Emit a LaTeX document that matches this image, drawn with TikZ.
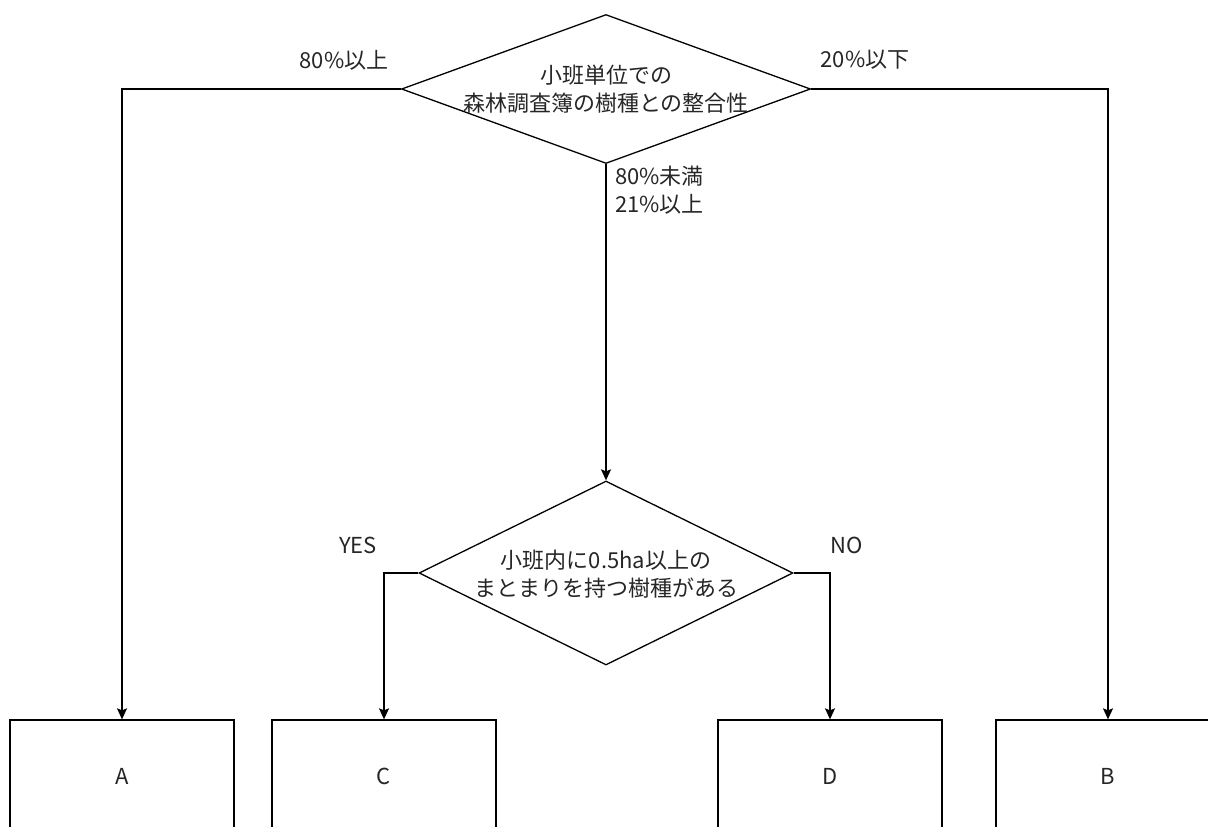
\documentclass[tikz,border=0pt]{standalone}
\usepackage{fontspec}
\setmainfont{Noto Sans CJK JP}
\usetikzlibrary{shapes.geometric,arrows.meta}
\colorlet{ink}{black!85}
\tikzset{
  conn/.style={line width=1.3pt, -{Stealth[length=11pt,width=10pt,inset=2pt]}},
  decision/.style={draw, line width=1.3pt, diamond, inner sep=0pt, minimum width=#1},
  result/.style={draw, line width=1.3pt, minimum width=224pt, minimum height=112pt, inner sep=0pt},
  txt/.style={font=\fontsize{22}{27.5}\selectfont, text=ink, align=center, inner sep=0pt},
  lbl/.style={font=\fontsize{22}{28}\selectfont, text=ink, align=left, inner sep=0pt}
}
\begin{document}
\begin{tikzpicture}[x=1pt,y=-1pt]
\useasboundingbox (0,0) rectangle (1208,827);
\clip (0,0) rectangle (1208,827);
% decision 1
\node[decision=409pt, minimum height=149pt] (d1) at (606,89) {};
\node[txt] (t1) at (606,89) {小班単位での\\森林調査簿の樹種との整合性};
% decision 2
\node[decision=374pt, minimum height=184pt] (d2) at (606,573) {};
\node[txt] (t2) at (606,574) {小班内に0.5ha以上の\\まとまりを持つ樹種がある};
% results
\node[result] (A) at (122,776) {};
\node[result] (C) at (384,776) {};
\node[result] (D) at (830,776) {};
\node[result] (B) at (1108,776) {};
\node[txt] at (A.center) {A};
\node[txt] at (C.center) {C};
\node[txt] at (D.center) {D};
\node[txt] at (B.center) {B};
% connectors
\draw[conn] (d1.west) -| (A.north);
\draw[conn] (d1.east) -| (B.north);
\draw[conn] (d1.south) -- (d2.north);
\draw[conn] (d2.west) -| (C.north);
\draw[conn] (d2.east) -| (D.north);
% edge labels
\node[txt] (l1) at (344,60) {80\%以上};
\node[txt] (l2) at (865,60) {20\%以下};
\node[lbl, anchor=north west] (l3) at (615,166) {80\%未満\\21\%以上};
\node[txt] (l4) at (358,545) {YES};
\node[txt] (l5) at (847,545) {NO};
\end{tikzpicture}
\end{document}
